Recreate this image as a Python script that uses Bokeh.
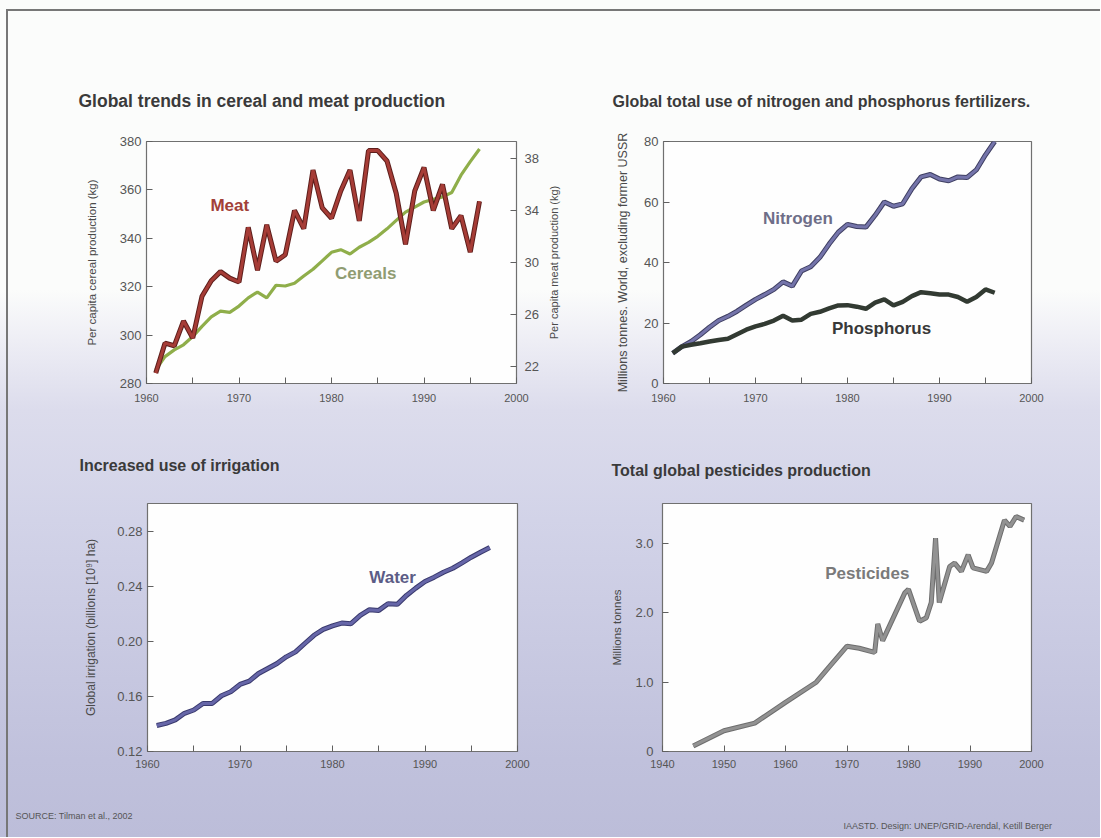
import math
from bokeh.plotting import figure
from bokeh.layouts import column, row
from bokeh.models import Range1d, LinearAxis, FixedTicker, Label, NumeralTickFormatter
from bokeh.embed import file_html
from bokeh.resources import INLINE

# ---------------- data ----------------
years_cm = list(range(1961, 1997))
cereals = [285.6, 291.1, 293.9, 296.0, 299.4, 303.6, 307.5, 309.9, 309.4, 312.0,
           315.4, 317.8, 315.4, 320.6, 320.3, 321.4, 324.4, 327.2, 330.7, 334.2,
           335.3, 333.5, 336.3, 338.3, 340.8, 343.9, 347.4, 350.8, 352.9, 355.0,
           356.1, 357.1, 358.9, 366.1, 371.7, 376.9]
meat = [21.5, 23.8, 23.6, 25.5, 24.2, 27.4, 28.6, 29.3, 28.8, 28.5,
        32.7, 29.4, 32.9, 30.1, 30.6, 34.0, 32.6, 37.1, 34.2, 33.4,
        35.5, 37.1, 33.2, 38.6, 38.6, 37.8, 35.3, 31.4, 35.5, 37.3,
        34.0, 36.0, 32.6, 33.6, 30.8, 34.7]

years_np = list(range(1961, 1997))
nitrogen = [10.0, 12.2, 13.9, 16.1, 18.6, 20.8, 22.2, 23.9, 25.9, 27.8,
            29.4, 31.1, 33.6, 32.2, 37.2, 38.6, 41.7, 46.1, 50.0, 52.6,
            51.9, 51.7, 55.6, 60.0, 58.6, 59.4, 64.4, 68.3, 69.1, 67.6,
            67.0, 68.3, 68.1, 70.6, 75.6, 80.0]
phosphorus = [10.0, 12.2, 12.8, 13.3, 13.9, 14.4, 14.8, 16.3, 17.8, 18.9,
              19.7, 20.8, 22.4, 20.8, 21.1, 23.0, 23.7, 24.8, 25.8, 25.9,
              25.4, 24.7, 26.7, 27.8, 25.8, 27.0, 28.9, 30.2, 29.8, 29.4,
              29.4, 28.6, 27.0, 28.6, 31.1, 30.0]

years_w = list(range(1961, 1998))
water = [0.1389, 0.1405, 0.1430, 0.1478, 0.1502, 0.1550, 0.1550, 0.1606, 0.1635, 0.1688,
         0.1712, 0.1768, 0.1804, 0.1840, 0.1889, 0.1925, 0.1986, 0.2046, 0.2089, 0.2114,
         0.2135, 0.2130, 0.2191, 0.2232, 0.2227, 0.2276, 0.2271, 0.2336, 0.2389, 0.2437,
         0.2469, 0.2505, 0.2534, 0.2573, 0.2614, 0.2650, 0.2684]

years_p = [1945, 1950, 1955, 1960, 1965, 1967, 1970, 1972, 1974.5, 1975, 1975.8,
           1979.4, 1980, 1981.8, 1982.9, 1983.7, 1984.4, 1985, 1986.7, 1987.5,
           1988.6, 1989.7, 1990.5, 1992.7, 1993.5, 1995.6, 1996.5, 1997.5, 1998.8]
pesticides = [0.08, 0.30, 0.41, 0.71, 1.00, 1.21, 1.52, 1.49, 1.43, 1.84, 1.60,
              2.29, 2.34, 1.88, 1.93, 2.15, 3.08, 2.15, 2.67, 2.72,
              2.60, 2.84, 2.65, 2.60, 2.72, 3.34, 3.25, 3.39, 3.34]

decade_ticks = [1960, 1970, 1980, 1990, 2000]
half_ticks = [1965, 1975, 1985, 1995]
pest_x_ticks = [1940, 1950, 1960, 1970, 1980, 1990, 2000]
cereal_ticks = [280, 300, 320, 340, 360, 380]
meat_ticks = [22, 26, 30, 34, 38]
fert_ticks = [0, 20, 40, 60, 80]
water_ticks = [0.12, 0.16, 0.20, 0.24, 0.28]
pest_y_ticks = [0, 1, 2, 3]
pest_y_labels = {0: "0", 1: "1.0", 2: "2.0", 3: "3.0"}

FONT = "Liberation Sans"
TITLE_C = "#3a3a3a"


def make_fig(w, h, xr, yr, left, right, top, bottom, title, toff, tstand, tsize="16px"):
    p = figure(width=w, height=h, x_range=Range1d(*xr), y_range=Range1d(*yr),
               output_backend="svg", toolbar_location=None,
               min_border_left=left, min_border_right=right,
               min_border_top=top, min_border_bottom=bottom)
    p.border_fill_alpha = 0
    p.background_fill_color = "#fefefe"
    p.outline_line_color = "#707070"
    p.outline_line_width = 1.2
    p.grid.visible = False
    p.title.text = title
    p.title.align = "left"
    p.title.offset = toff
    p.title.standoff = tstand
    p.title.text_font = FONT
    p.title.text_font_size = tsize
    p.title.text_font_style = "bold"
    p.title.text_color = TITLE_C
    return p


def style_axis(ax, label, std, size="11px", lstd=5, tsize="13px"):
    ax.axis_line_color = None
    ax.major_tick_in = 6
    ax.major_tick_out = 0
    ax.minor_tick_in = 6
    ax.minor_tick_out = 0
    ax.major_tick_line_color = "#606060"
    ax.minor_tick_line_color = "#606060"
    ax.major_label_text_font = FONT
    ax.major_label_text_font_size = tsize
    ax.major_label_text_color = "#555555"
    ax.major_label_standoff = lstd
    ax.axis_label = label
    ax.axis_label_standoff = std
    ax.axis_label_text_font = FONT
    ax.axis_label_text_font_size = size
    ax.axis_label_text_font_style = "normal"
    ax.axis_label_text_color = "#4a4a4a"


def lbl(p, x, y, text, color, size="17px", y_range_name="default"):
    p.add_layout(Label(x=x, y=y, text=text, text_color=color, text_font=FONT,
                       text_font_size=size, text_font_style="bold",
                       text_align="center", text_baseline="middle",
                       y_range_name=y_range_name))


# ---------------- panel 1 ----------------
p1 = make_fig(541, 423, (1960, 2000), (280, 380), 146, 24, 141, 40,
              "Global trends in cereal and meat production", -68, 62, "17.5px")
p1.extra_y_ranges = {"meat": Range1d(20.7, 39.3)}
p1.xaxis.ticker = FixedTicker(ticks=decade_ticks, minor_ticks=half_ticks)
p1.yaxis.ticker = FixedTicker(ticks=cereal_ticks)
style_axis(p1.xaxis[0], "", 0, lstd=10, tsize="11px")
style_axis(p1.yaxis[0], "Per capita cereal production (kg)", 19, "11.5px")
rax = LinearAxis(y_range_name="meat", ticker=FixedTicker(ticks=meat_ticks))
style_axis(rax, "", 0, lstd=8)
p1.add_layout(rax, "right")
p1.line(years_cm, cereals, line_color="#8fae4a", line_width=3.2)
p1.line(years_cm, meat, line_color="#5e1f1c", line_width=5, y_range_name="meat")
p1.line(years_cm, meat, line_color="#a63c36", line_width=3, y_range_name="meat")
lbl(p1, 1969.0, 353.6, "Meat", "#a24038")
lbl(p1, 1983.7, 325.5, "Cereals", "#909c72")

# ---------------- panel 2 ----------------
p2 = make_fig(559, 423, (1960, 2000), (0, 80), 122, 69, 141, 40,
              "Global total use of nitrogen and phosphorus fertilizers.", -51, 63)
p2.xaxis.ticker = FixedTicker(ticks=decade_ticks, minor_ticks=half_ticks)
p2.yaxis.ticker = FixedTicker(ticks=fert_ticks)
style_axis(p2.xaxis[0], "", 0, lstd=10, tsize="11px")
style_axis(p2.yaxis[0], "Millions tonnes. World, excluding former USSR", 11, "12.5px")
# the meat axis title of panel 1 sits in the space left of panel 2
meat_title_axis = LinearAxis(ticker=FixedTicker(ticks=[]))
style_axis(meat_title_axis, "Per capita meat production (kg)", 54, "11px", lstd=0)
p2.add_layout(meat_title_axis, "left")
p2.line(years_np, nitrogen, line_color="#3f3f62", line_width=5)
p2.line(years_np, nitrogen, line_color="#7474aa", line_width=3)
p2.line(years_np, phosphorus, line_color="#323a32", line_width=4.5)
lbl(p2, 1974.6, 54.6, "Nitrogen", "#6e6e88")
lbl(p2, 1983.7, 18.2, "Phosphorus", "#383838")

# ---------------- panel 3 ----------------
p3 = make_fig(564, 367, (1960, 2000), (0.12, 0.3005), 147, 47, 80, 38,
              "Increased use of irrigation", -68, 59)
p3.xaxis.ticker = FixedTicker(ticks=decade_ticks, minor_ticks=half_ticks)
p3.yaxis.ticker = FixedTicker(ticks=water_ticks)
p3.yaxis.formatter = NumeralTickFormatter(format="0.00")
style_axis(p3.xaxis[0], "", 0, lstd=8, tsize="11px")
style_axis(p3.yaxis[0], "Global irrigation (billions [10\u2079] ha)", 16, "12px")
p3.line(years_w, water, line_color="#3a3a6e", line_width=5)
p3.line(years_w, water, line_color="#6666a8", line_width=3)
lbl(p3, 1986.5, 0.2465, "Water", "#5c5c86")

# ---------------- panel 4 ----------------
p4 = make_fig(536, 367, (1940, 2000), (0, 3.58), 98, 69, 79, 39,
              "Total global pesticides production", -51, 49)
p4.xaxis.ticker = FixedTicker(ticks=pest_x_ticks)
p4.yaxis.ticker = FixedTicker(ticks=pest_y_ticks)
p4.yaxis.major_label_overrides = pest_y_labels
style_axis(p4.xaxis[0], "", 0, lstd=8, tsize="11px")
style_axis(p4.yaxis[0], "Millions tonnes", 9, "11.5px", lstd=9)
p4.line(years_p, pesticides, line_color="#6e6e6e", line_width=5)
p4.line(years_p, pesticides, line_color="#929292", line_width=3)
lbl(p4, 1973.3, 2.57, "Pesticides", "#7a7a7a")

# ---------------- footer ----------------
pf = figure(width=1100, height=47, x_range=Range1d(0, 1100), y_range=Range1d(0, 47),
            output_backend="svg", toolbar_location=None, min_border=0,
            x_axis_location=None, y_axis_location=None)
pf.grid.visible = False
pf.outline_line_color = None
pf.background_fill_alpha = 0
pf.border_fill_alpha = 0
pf.add_layout(Label(x=15, y=22, text="SOURCE: Tilman et al., 2002", text_font=FONT,
                    text_font_size="9px", text_color="#555555", text_baseline="middle"))
pf.add_layout(Label(x=843, y=12, text="IAASTD. Design: UNEP/GRID-Arendal, Ketill Berger",
                    text_font=FONT, text_font_size="9px", text_color="#555555",
                    text_baseline="middle"))

bg = ("linear-gradient(#777, #777) 6px 9px / 2px 830px no-repeat, "
      "linear-gradient(#777, #777) 6px 9px / 1094px 2px no-repeat, "
      "linear-gradient(to bottom, #fbfcfb 0px, #fbfcfb 290px, #eeeef5 340px, "
      "#dcdcec 410px, #d2d3e8 520px, #c9cae2 640px, #c0c1dc 760px, #bcbdd9 837px)")
layout = column(row(p1, p2), row(p3, p4), pf, styles={"background": bg})

open("out.html", "w").write(file_html(layout, INLINE))
